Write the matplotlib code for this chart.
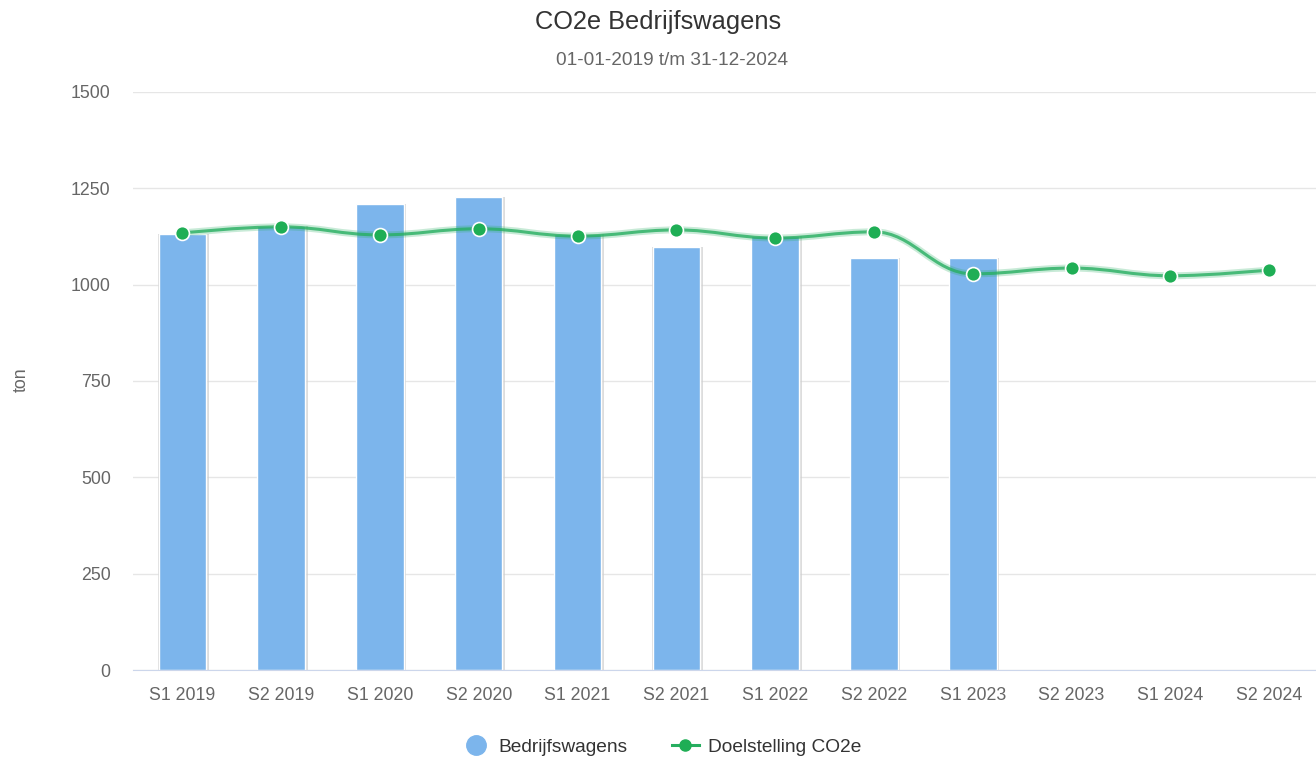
import numpy as np
import matplotlib.pyplot as plt
from matplotlib.path import Path
from matplotlib.patches import PathPatch
from matplotlib.lines import Line2D

plt.rcParams['font.family'] = ['Liberation Sans', 'DejaVu Sans']

categories = ["S1 2019", "S2 2019", "S1 2020", "S2 2020", "S1 2021", "S2 2021",
              "S1 2022", "S2 2022", "S1 2023", "S2 2023", "S1 2024", "S2 2024"]
bedrijfswagens = [1132, 1152, 1209, 1227, 1132, 1098, 1126, 1069, 1069]
doelstelling = [1134, 1150, 1129, 1145, 1126, 1142, 1121, 1137, 1028, 1043, 1023, 1038]
yticks = [0, 250, 500, 750, 1000, 1250, 1500]

bar_color = "#7cb5ec"
line_color = "#27ae60"
marker_color = "#1fae55"


def spline_path(xs, ys, smoothing=1.5):
    # highcharts-style spline through the points (cubic bezier segments)
    n = len(xs)
    verts = [(xs[0], ys[0])]
    codes = [Path.MOVETO]
    ctrl = []
    for i in range(n):
        if 0 < i < n - 1:
            px, py = xs[i - 1], ys[i - 1]
            nx, ny = xs[i + 1], ys[i + 1]
            x, y = xs[i], ys[i]
            d = smoothing + 1
            lcx = (smoothing * x + px) / d
            lcy = (smoothing * y + py) / d
            rcx = (smoothing * x + nx) / d
            rcy = (smoothing * y + ny) / d
            if rcx != lcx:
                corr = (rcy - lcy) * (rcx - x) / (rcx - lcx) + y - rcy
                lcy += corr
                rcy += corr
            if lcy > py and lcy > y:
                lcy = max(py, y)
                rcy = 2 * y - lcy
            elif lcy < py and lcy < y:
                lcy = min(py, y)
                rcy = 2 * y - lcy
            if rcy > ny and rcy > y:
                rcy = max(ny, y)
                lcy = 2 * y - rcy
            elif rcy < ny and rcy < y:
                rcy = min(ny, y)
                lcy = 2 * y - rcy
            ctrl.append(((lcx, lcy), (rcx, rcy)))
        else:
            ctrl.append(((xs[i], ys[i]), (xs[i], ys[i])))
    for i in range(1, n):
        verts += [ctrl[i - 1][1], ctrl[i][0], (xs[i], ys[i])]
        codes += [Path.CURVE4] * 3
    return Path(verts, codes)


fig = plt.figure(figsize=(13.16, 7.6), dpi=100)
ax = fig.add_axes([0.101, 0.1184, 0.901, 0.7606])

x = np.arange(len(categories))
xb = x[:len(bedrijfswagens)]
# soft shadow behind bars
ax.bar(xb + 0.012, bedrijfswagens, width=0.51, color="#cfcfcf", alpha=0.7, zorder=2)
ax.bar(xb, bedrijfswagens, width=0.48, color=bar_color, edgecolor="white",
       linewidth=1, zorder=3)

p = spline_path(list(x.astype(float)), doelstelling)
ax.add_patch(PathPatch(p, fill=False, edgecolor=line_color, lw=5, alpha=0.25, zorder=4))
ax.add_patch(PathPatch(p, fill=False, edgecolor=line_color, lw=2.2, alpha=0.8, zorder=5))
ax.plot(x, doelstelling, ls="none", marker="o", ms=10, mfc=marker_color,
        mec="white", mew=1.2, zorder=6)

ax.set_xlim(-0.5, len(categories) - 0.5)
ax.set_ylim(0, 1500)
ax.set_yticks(yticks)
ax.set_xticks(x)
ax.set_xticklabels(categories)
ax.grid(axis="y", color="#e6e6e6", lw=1)
ax.set_axisbelow(True)
for s in ["top", "right", "left"]:
    ax.spines[s].set_visible(False)
ax.spines["bottom"].set_color("#ccd6eb")
ax.spines["bottom"].set_zorder(7)
ax.tick_params(axis="both", length=0, labelsize=12.8, colors="#666666")
ax.tick_params(axis="x", pad=12)
ax.tick_params(axis="y", pad=16)

fig.text(0.0165, 0.5, "ton", rotation=90, ha="center", va="center",
         fontsize=12.8, color="#666666")
fig.text(0.5, 0.971, "CO2e Bedrijfswagens", ha="center", va="center",
         fontsize=18.3, color="#333333")
fig.text(0.511, 0.921, "01-01-2019 t/m 31-12-2024", ha="center", va="center",
         fontsize=13.7, color="#666666")

handles = [
    Line2D([], [], ls="none", marker="o", ms=14, mfc=bar_color, mec=bar_color),
    Line2D([], [], color=line_color, lw=2.2, marker="o", ms=8, mfc=marker_color,
           mec=marker_color),
]
fig.legend(handles, ["Bedrijfswagens", "Doelstelling CO2e"], loc="center",
           bbox_to_anchor=(0.503, 0.017), ncol=2, frameon=False, fontsize=13.8,
           labelcolor="#333333", handlelength=1.4, columnspacing=2.3, handletextpad=0.5)

fig.savefig("out.png", dpi=100)
